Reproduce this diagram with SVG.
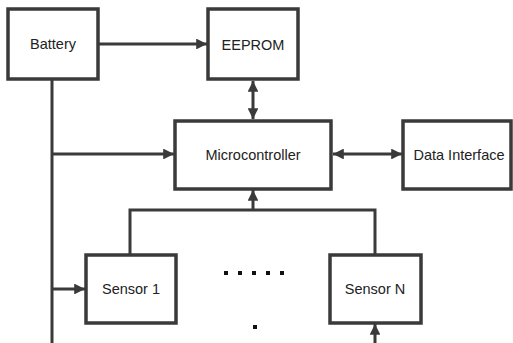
<svg xmlns="http://www.w3.org/2000/svg" width="513" height="343" viewBox="0 0 513 343">
  <style>
    .box { fill: #ffffff; stroke: #3a3a3a; stroke-width: 3.5; }
    .lbl { font-family: "Liberation Sans", Arial, sans-serif; font-size: 14.5px; fill: #222222; text-anchor: middle; dominant-baseline: central; }
    .wire { fill: none; stroke: #3a3a3a; stroke-width: 3; }
    .dot { fill: #111111; }
  </style>
  <defs>
    <marker id="head" viewBox="0 0 10 10" refX="10" refY="5" markerWidth="3.6" markerHeight="3.6" orient="auto-start-reverse" markerUnits="strokeWidth">
      <path d="M0,0 L10,5 L0,10 Z" fill="#3a3a3a"/>
    </marker>
  </defs>
  <rect width="513" height="343" fill="#ffffff"/>

  <g id="connectors">
    <!-- battery feed -->
    <path class="wire" d="M99,44 H207" marker-end="url(#head)"/>
    <path class="wire" d="M52,79 V346"/>
    <path class="wire" d="M52,154 H174" marker-end="url(#head)"/>
    <path class="wire" d="M52,289 H85" marker-end="url(#head)"/>
    <path class="wire" d="M52,345 H375 V324" marker-end="url(#head)"/>
    <!-- memory link -->
    <path class="wire" d="M253,81 V119" marker-start="url(#head)" marker-end="url(#head)"/>
    <!-- data link -->
    <path class="wire" d="M333,154 H402" marker-start="url(#head)" marker-end="url(#head)"/>
    <!-- sensor bus -->
    <path class="wire" d="M130,254 V210 H375 V254"/>
    <path class="wire" d="M253,210 V190" marker-end="url(#head)"/>
  </g>

  <g id="battery">
    <rect class="box" x="8" y="9" width="90" height="70"/>
    <text class="lbl" x="53" y="44">Battery</text>
  </g>
  <g id="eeprom">
    <rect class="box" x="208" y="9" width="90" height="70"/>
    <text class="lbl" x="253" y="45">EEPROM</text>
  </g>
  <g id="microcontroller">
    <rect class="box" x="175" y="121" width="156" height="68"/>
    <text class="lbl" x="253" y="155">Microcontroller</text>
  </g>
  <g id="data-interface">
    <rect class="box" x="403" y="121" width="108" height="68"/>
    <text class="lbl" x="459" y="155">Data Interface</text>
  </g>
  <g id="sensor-1">
    <rect class="box" x="86" y="255" width="90" height="68"/>
    <text class="lbl" x="131" y="289">Sensor 1</text>
  </g>
  <g id="sensor-n">
    <rect class="box" x="330" y="255" width="91" height="68"/>
    <text class="lbl" x="375" y="289">Sensor N</text>
  </g>

  <g id="ellipsis">
    <rect class="dot" x="224" y="271" width="4" height="4"/>
    <rect class="dot" x="238" y="271" width="4" height="4"/>
    <rect class="dot" x="252" y="271" width="4" height="4"/>
    <rect class="dot" x="266" y="271" width="4" height="4"/>
    <rect class="dot" x="280" y="271" width="4" height="4"/>
    <rect class="dot" x="253" y="325" width="4" height="4"/>
  </g>
</svg>
